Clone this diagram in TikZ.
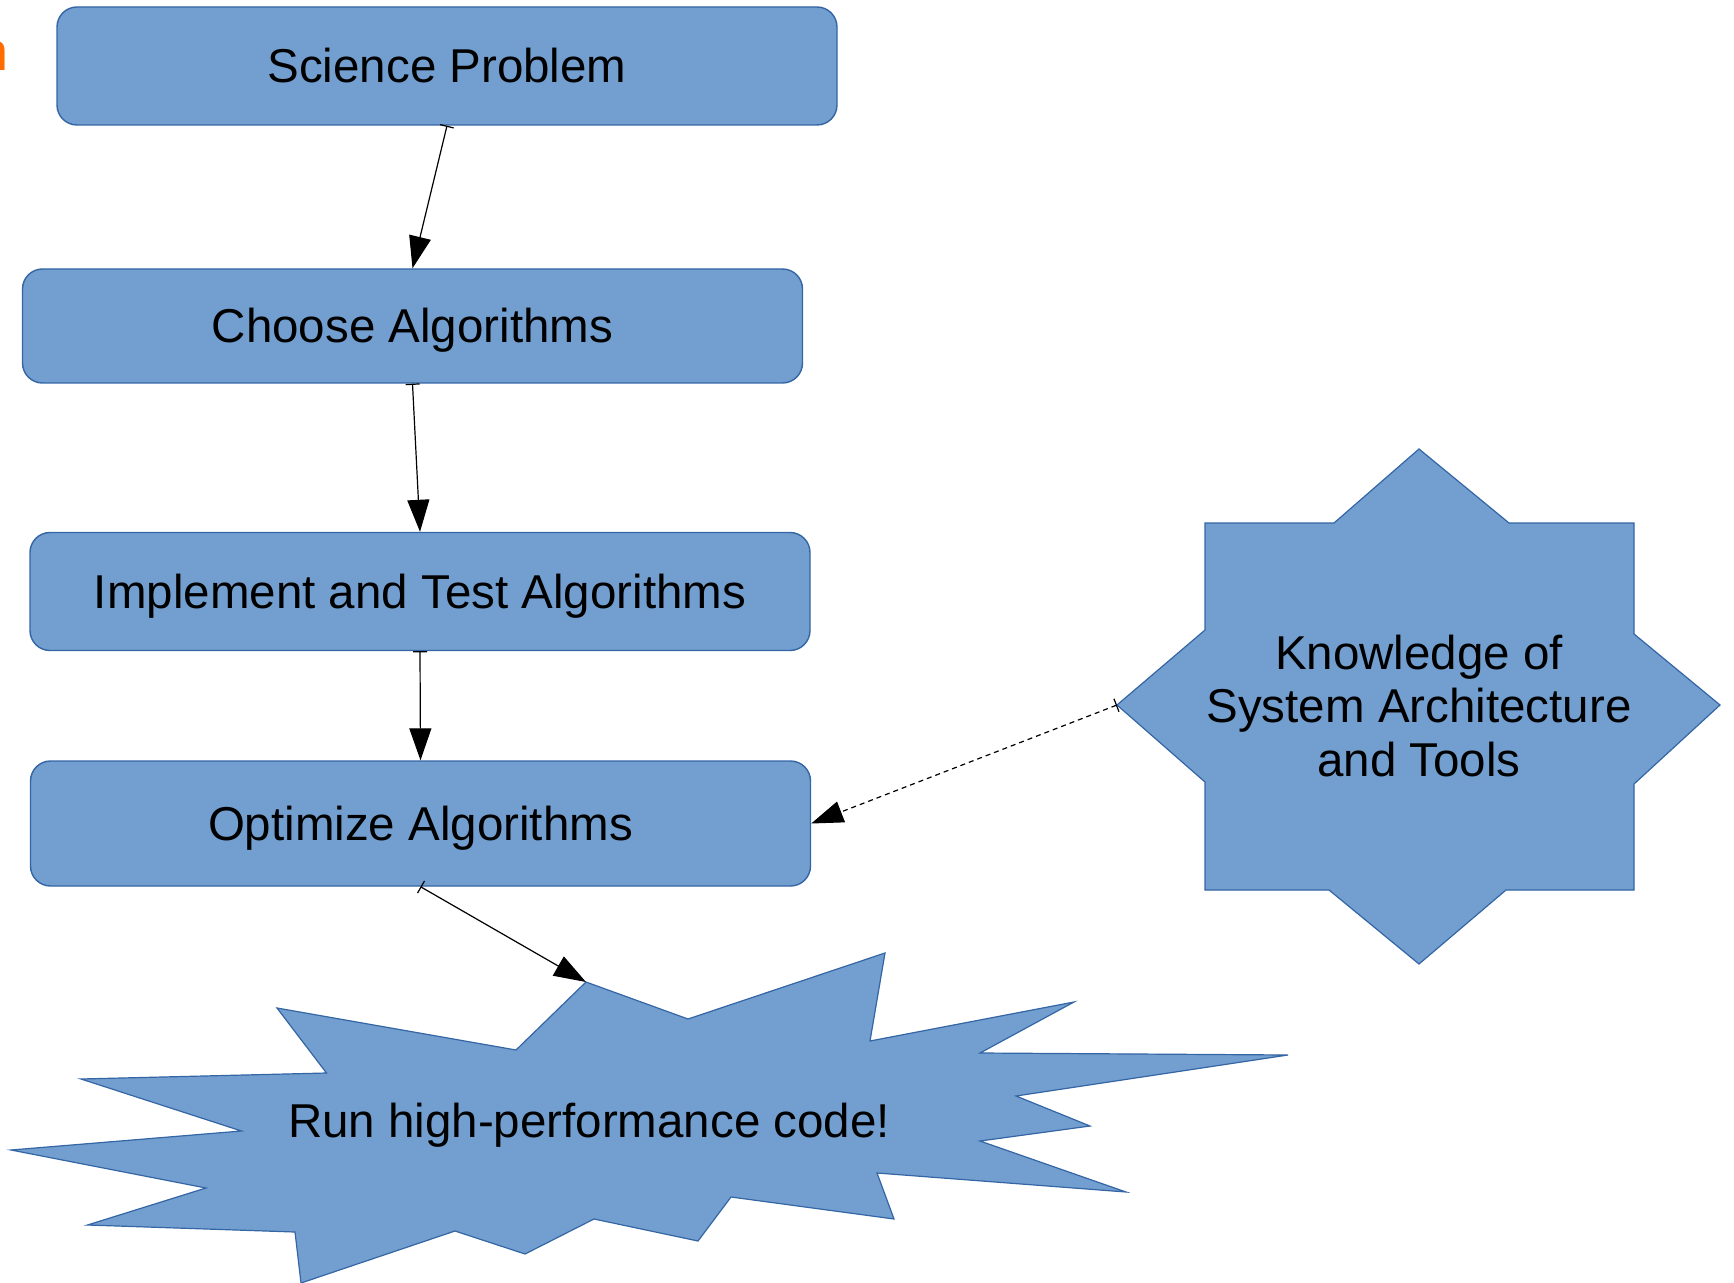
\documentclass[tikz,border=0pt]{standalone}
\usepackage{fontspec}
\setmainfont{Liberation Sans}
\usetikzlibrary{arrows.meta}
\definecolor{ShapeBlue}{HTML}{729FCF}
\definecolor{ShapeLine}{HTML}{3465A4}
\definecolor{TitleOrange}{RGB}{255,108,0}

\begin{document}
\begin{tikzpicture}[
    x=0.5pt,
    y=-0.5pt,
    font=\fontsize{23.75}{26.8}\selectfont,
    >={Triangle[length=16pt,width=11pt]},
    block/.style={
        draw=ShapeLine,
        line width=0.7pt,
        fill=ShapeBlue,
        rounded corners=10pt,
        minimum width=390pt,
        minimum height=59pt,
        inner sep=0pt,
        text height=21.5pt,
        text depth=5pt,
        align=center
    },
    blob/.style={
        draw=ShapeLine,
        line width=0.6pt,
        fill=ShapeBlue,
        line join=miter
    },
    arrow/.style={
        arrows={Bar[width=7pt]}->,
        line width=0.6pt
    }
]
\useasboundingbox (0,0) rectangle (1734,1283);

% cut-off letter at the left border
\node[anchor=base east, inner sep=0pt, text=TitleOrange,
      font=\fontsize{27}{30}\selectfont] (cut) at (9,71) {n};

% steps
\node[block] (sci)    at (447,66)    {Science Problem};
\node[block, minimum height=57pt] (choose) at (412.5,326) {Choose Algorithms};
\node[block] (impl)   at (420,591.5) {Implement and Test Algorithms};
\node[block, minimum height=62.5pt] (opt) at (420.5,823.5) {Optimize Algorithms};

% knowledge star
\draw[blob] (1419,449) -- (1509,523) -- (1634,523) -- (1634,634)
    -- (1720,705) -- (1634,784) -- (1634,890) -- (1506,890)
    -- (1419,964) -- (1329,890) -- (1205,890) -- (1205,782)
    -- (1117,705) -- (1205,630) -- (1205,523) -- (1334,523) -- cycle;
\coordinate (knowtip) at (1117,705);
\node[align=center] (know) at (1419,706)
    {Knowledge of\\System Architecture\\and Tools};

% run burst
\draw[blob] (586,982) -- (688,1019) -- (885,953) -- (870,1041)
    -- (1074,1002) -- (980,1053) -- (1288,1055) -- (1016,1096)
    -- (1090,1126) -- (980,1141) -- (1126,1192) -- (877,1173)
    -- (894,1219) -- (731,1197) -- (698,1241) -- (594,1219)
    -- (525,1254) -- (455,1231) -- (301,1283) -- (295,1232)
    -- (87.5,1225) -- (206,1188) -- (11,1150) -- (241.5,1131)
    -- (81,1079) -- (326.5,1073) -- (277,1008) -- (516,1050) -- cycle;
\coordinate (runtip) at (586,982);
\node[text height=21.5pt, text depth=5pt] (run) at (589,1121)
    {Run high-performance code!};

% connectors
\draw[arrow] (sci.south) -- (choose.north);
\draw[arrow] (choose.south) -- (impl.north);
\draw[arrow] (impl.south) -- (opt.north);
\draw[arrow] (opt.south) -- (runtip);
\draw[arrow, dash pattern=on 2.5pt off 2pt] (knowtip) -- (opt.east);

\end{tikzpicture}
\end{document}
